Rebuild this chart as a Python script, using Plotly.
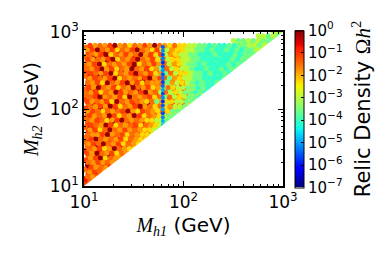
import plotly.graph_objects as go

# Relic density, on two staggered sets of (M_h1, M_h2) cells.
# Each digit is an index into LEVELS (log10 of the relic density); a space is an empty cell.
LEVELS = [-0.15, -0.75, -1.15, -1.5, -1.85, -2.3, -3.0, -3.6, -4.1, -5.5]
ROWS_A = [
    "22",
    "132",
    "2313",
    "323243",
    "0342134",
    "23342434",
    "3423024344",
    "24313343445",
    "330242313345",
    "3243423432445",
    "323342143233455",
    "2313343423243556",
    "31243243432334566",
    "232430342231345667",
    "33423143243233455677",
    "323324423142342345677",
    "2340241342314357535677",
    "31231342412303457243567",
    "2342143323424345723536777",
    "33123432143323245735465677",
    "321342314320342457353567777",
    "2342341320332433574255677877",
    "332431423320324573546677787777",
    "3120234134213237354366778787877",
    "23314231432413273254667787878777",
    "332341423402314743536677878887877",
    "32340314323432473545667778788878777",
    "330231423413423725346677878788787777",
    "2431241323424137354566778787888787677",
    "31432214332432473435667778878787877677",
    "                              6677676767",
    "                                   66766",
    "                                      66",
]
ROWS_B = [
    "34",
    "343",
    "4234",
    "243425",
    "3424345",
    "42053445",
    "2403425345",
    "34254034555",
    "423034253456",
    "2034342534556",
    "344204325345567",
    "4253034243455677",
    "23402534325345677",
    "342354203434556677",
    "24340253402534567777",
    "423534320452345357777",
    "3424025342043535466777",
    "24342503423453745566777",
    "3204342503432537365677877",
    "42534024342043636567787877",
    "240342534034254735667787887",
    "3425034204253443746567878877",
    "423420534342042374566778888777",
    "2342053420342547365567787887877",
    "34204253403425473656678878878777",
    "420534342053424364567787888878777",
    "24342053420342536556677888888787777",
    "342053424304252645667788878887877777",
    "4203425342034525645566778788787877667",
    "24342043534240345355667787887877667667",
    "                             67767677766",
    "                                  667676",
    "                                     667",
]
LOG_M1_START_A = 1.025
LOG_M2_START_A = 1.03
LOG_M1_START_B = 1.05
LOG_M2_START_B = 1.06
LOG_M1_STEP = 0.05
LOG_M2_STEP = 0.061
# Each row of cells sits a little off the lattice (log10 of M_h1)
ROW_SHIFT_A = [0, -.01, .02, -.02, .015, -.005, .02, -.015, .01, -.02, .005, .02, -.01, .015, -.02, .01, -.005, .02, -.015, .005, -.02, .015, .02, -.01, .005, -.02, .01, -.015, .02, -.005, 0, 0, 0]
ROW_SHIFT_B = [.01, -.015, .005, .02, -.01, .015, -.02, .005, -.005, .02, -.015, .01, .02, -.02, .005, -.01, .015, -.02, .01, .02, -.005, -.015, .01, .02, -.02, .005, -.01, .02, -.015, .01, 0, 0, 0]

STRIPE_M1 = [62] * 21
STRIPE_M2 = [62, 70, 78, 88, 99, 111, 125, 140, 158, 177, 199, 224, 252, 283, 318, 357, 401, 451, 507, 570, 640]
STRIPE_OMEGA = [-4.6, -4.9, -5.2, -5.6, -5.0, -5.5, -5.8, -5.2, -5.6, -5.0, -5.4, -5.7, -5.3, -5.6, -5.1, -5.5, -5.8, -5.3, -5.6, -5.2, -5.5]

TICK_VALS = [10, 100, 1000]
TICK_TEXT = ["10<sup>1</sup>", "10<sup>2</sup>", "10<sup>3</sup>"]
CB_VALS = [0, -1, -2, -3, -4, -5, -6, -7]
CB_TEXT = ["10<sup>0</sup>"] + [f"10<sup>\u2212{i}</sup>" for i in range(1, 8)]

JET = [
    [0.0, "#00007f"], [0.11, "#0000ff"], [0.125, "#0000ff"], [0.34, "#00dbff"], [0.375, "#0dffe9"],
    [0.5, "#7cff79"], [0.64, "#f4f802"], [0.66, "#ffe600"], [0.77, "#ff7700"], [0.89, "#ff1300"],
    [0.91, "#e80000"], [1.0, "#7f0000"],
]


def cells(rows, shifts, x0, y0):
    x, y, c = [], [], []
    for r, row in enumerate(rows):
        for k, ch in enumerate(row):
            if ch != " ":
                x.append(10 ** (x0 + shifts[r] + k * LOG_M1_STEP))
                y.append(10 ** (y0 + r * LOG_M2_STEP))
                c.append(LEVELS[int(ch)])
    return x, y, c


fig = go.Figure()
for rows, shifts, x0, y0, size in [(ROWS_A, ROW_SHIFT_A, LOG_M1_START_A, LOG_M2_START_A, 6),
                                   (ROWS_B, ROW_SHIFT_B, LOG_M1_START_B, LOG_M2_START_B, 5)]:
    x, y, c = cells(rows, shifts, x0, y0)
    fig.add_trace(go.Scatter(x=x, y=y, mode="markers", showlegend=False,
                             marker=dict(size=size, color=c, coloraxis="coloraxis", line_width=0)))
fig.add_trace(go.Scatter(x=STRIPE_M1, y=STRIPE_M2, mode="markers", showlegend=False,
                         marker=dict(size=4, color=STRIPE_OMEGA, coloraxis="coloraxis", line_width=0)))
# The region M_h2 < M_h1 is empty
fig.add_trace(go.Scatter(x=[10, 1000, 1000], y=[10, 1000, 10], mode="lines", fill="toself",
                         fillcolor="white", line=dict(width=0), hoverinfo="skip", showlegend=False))

axis = dict(type="log", range=[1, 3], tickmode="array", tickvals=TICK_VALS, ticktext=TICK_TEXT,
            ticks="inside", ticklen=5, tickwidth=1, tickcolor="black", showgrid=False, zeroline=False,
            showline=True, linecolor="black", linewidth=1.5, mirror="allticks",
            tickfont=dict(family="DejaVu Sans", size=17, color="black"),
            minor=dict(ticks="inside", ticklen=2.5, tickwidth=1, tickcolor="black", showgrid=False, dtick="D1"))
serif = '<span style="font-family:\'Liberation Serif\'"><i>M</i><sub><i>%s</i></sub></span> (GeV)'
fig.update_layout(
    width=383, height=256, paper_bgcolor="white", plot_bgcolor="white",
    margin=dict(l=76, r=107.5, t=21, b=78),
    font=dict(family="DejaVu Sans", color="black"),
    xaxis=dict(axis, title=dict(text=serif % "h1", font=dict(size=20), standoff=7)),
    yaxis=dict(axis, title=dict(text=serif % "h2", font=dict(size=20), standoff=6)),
    coloraxis=dict(cmin=-7, cmax=0, colorscale=JET, colorbar=dict(
        x=1.06, xanchor="left", y=0.5, yanchor="middle", len=157, lenmode="pixels",
        thickness=8.5, thicknessmode="pixels", xpad=0, ypad=0,
        tickmode="array", tickvals=CB_VALS, ticktext=CB_TEXT, ticks="inside", ticklen=3,
        tickcolor="black", outlinecolor="black", outlinewidth=1,
        tickfont=dict(family="DejaVu Sans", size=15, color="black"))),
    annotations=[dict(text="Relic Density <span style=\"font-family:'Liberation Serif'\">\u03a9<i>h</i><sup>2</sup></span>",
                      textangle=-90, xref="paper", yref="paper", xanchor="center", yanchor="middle",
                      x=1.393, y=0.5, showarrow=False, font=dict(family="DejaVu Sans", size=21, color="black"))],
)
fig.write_html("out.html")
